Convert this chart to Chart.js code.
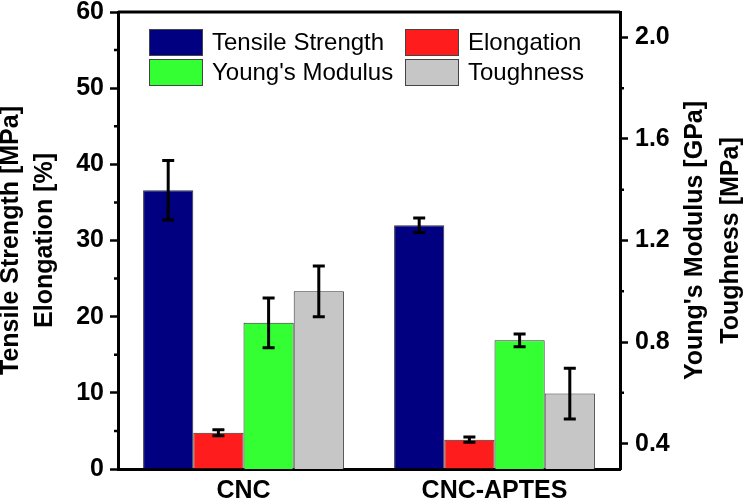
<!DOCTYPE html>
<html>
<head>
<meta charset="utf-8">
<script src="https://cdn.jsdelivr.net/npm/chart.js@4/dist/chart.umd.min.js"></script>
<style>
  html, body { margin: 0; padding: 0; background: #fff; }
  #wrap { width: 750px; height: 501px; }
</style>
</head>
<body>
<div id="wrap"><canvas id="chart" width="750" height="501"></canvas></div>
<script>
// Chart data
const categories = ['CNC', 'CNC-APTES'];
const tensile = [36.6, 32.0];
const tensileErr = [3.9, 0.95];
const elongation = [4.75, 3.85];
const elongationErr = [0.4, 0.35];
const modulus = [0.876, 0.807];
const modulusErr = [0.098, 0.025];
const toughness = [1.0, 0.597];
const toughnessErr = [0.1, 0.1];

const leftTicks = [0, 10, 20, 30, 40, 50, 60];
const leftMinor = [5, 15, 25, 35, 45, 55];
const rightTicks = [0.4, 0.8, 1.2, 1.6, 2.0];
const rightMinor = [0.6, 1.0, 1.4, 1.8];

const FONT = '"Liberation Sans", Arial, sans-serif';
const Y1_MIN = 0.3;

// error bars, drawn from each bar element and its own scale
const errorBars = {
    id: 'errorBars',
    afterDatasetsDraw(chart) {
        const ctx = chart.ctx;
        ctx.save();
        ctx.strokeStyle = '#000';
        ctx.lineWidth = 3;
        chart.data.datasets.forEach((ds, i) => {
            const meta = chart.getDatasetMeta(i);
            const scale = chart.scales[ds.yAxisID];
            meta.data.forEach((bar, j) => {
                const v = ds.data[j], e = ds.errors[j];
                const yTop = scale.getPixelForValue(v + e);
                const yBot = scale.getPixelForValue(v - e);
                ctx.beginPath();
                ctx.moveTo(bar.x, yTop); ctx.lineTo(bar.x, yBot);
                ctx.moveTo(bar.x - 6, yTop); ctx.lineTo(bar.x + 6, yTop);
                ctx.moveTo(bar.x - 6, yBot); ctx.lineTo(bar.x + 6, yBot);
                ctx.stroke();
            });
        });
        ctx.restore();
    }
};

// frame, minor ticks, right title, legend
const decorations = {
    id: 'decorations',
    afterDraw(chart) {
        const ctx = chart.ctx;
        const area = chart.chartArea;
        const y = chart.scales.y, y1 = chart.scales.y1;
        ctx.save();
        ctx.strokeStyle = '#000';
        ctx.lineWidth = 3;
        ctx.beginPath();
        ctx.moveTo(area.left, area.top); ctx.lineTo(area.right, area.top);
        ctx.stroke();

        ctx.lineWidth = 2.5;
        ctx.beginPath();
        leftMinor.forEach(v => {
            const p = y.getPixelForValue(v);
            ctx.moveTo(area.left - 4, p); ctx.lineTo(area.left, p);
        });
        rightMinor.forEach(v => {
            const p = y1.getPixelForValue(v);
            ctx.moveTo(area.right, p); ctx.lineTo(area.right + 4, p);
        });
        ctx.stroke();

        // right axis title, reading bottom to top
        ctx.fillStyle = '#000';
        ctx.font = 'bold 25px ' + FONT;
        ctx.textAlign = 'center';
        ctx.textBaseline = 'middle';
        const cy = (area.top + area.bottom) / 2;
        [["Young's Modulus [GPa]", 695], ['Toughness [MPa]', 731]].forEach(([t, x]) => {
            ctx.save();
            ctx.translate(x, cy);
            ctx.rotate(-Math.PI / 2);
            ctx.fillText(t, 0, 0);
            ctx.restore();
        });

        // legend in two columns
        const cols = [149, 405];
        const rows = [29, 59];
        ctx.font = '24px ' + FONT;
        ctx.textAlign = 'left';
        ctx.lineWidth = 1;
        ctx.strokeStyle = '#444';
        chart.data.datasets.forEach((ds, i) => {
            const bx = cols[i % 2], by = rows[Math.floor(i / 2)];
            ctx.fillStyle = ds.backgroundColor;
            ctx.fillRect(bx, by, 54, 27);
            ctx.strokeRect(bx + 0.5, by + 0.5, 53, 26);
            ctx.fillStyle = '#000';
            ctx.fillText(ds.label, bx + 63, by + 14);
        });
        ctx.restore();
    }
};

function makeDataset(label, data, errors, color, axis) {
    return {
        label: label,
        data: data,
        errors: errors,
        yAxisID: axis,
        backgroundColor: color,
        borderColor: '#333',
        borderWidth: 1,
        base: axis === 'y1' ? Y1_MIN : 0,
        categoryPercentage: 0.8,
        barPercentage: 1.0
    };
}

new Chart(document.getElementById('chart').getContext('2d'), {
    type: 'bar',
    data: {
        labels: categories,
        datasets: [
            makeDataset('Tensile Strength', tensile, tensileErr, '#000080', 'y'),
            makeDataset('Elongation', elongation, elongationErr, '#ff1c1c', 'y'),
            makeDataset("Young's Modulus", modulus, modulusErr, '#33ff33', 'y1'),
            makeDataset('Toughness', toughness, toughnessErr, '#c6c6c6', 'y1')
        ]
    },
    options: {
        responsive: false,
        animation: false,
        layout: { padding: { top: 12, left: 0, right: 0, bottom: 0 } },
        plugins: { legend: { display: false }, tooltip: { enabled: false } },
        scales: {
            x: {
                grid: { display: false, drawTicks: false },
                border: { display: true, color: '#000', width: 3 },
                ticks: { color: '#000', padding: 7, font: { family: FONT, size: 25, weight: 'bold' } },
                afterFit: s => { s.height = 32; }
            },
            y: {
                position: 'left',
                min: 0,
                max: 60,
                afterBuildTicks: s => { s.ticks = leftTicks.map(v => ({ value: v })); },
                afterFit: s => { s.width = 118; s.paddingTop = 0; s.paddingBottom = 0; },
                grid: { drawOnChartArea: false, drawTicks: true, tickLength: 8, tickColor: '#000', tickWidth: 2.5 },
                border: { display: true, color: '#000', width: 3 },
                ticks: { color: '#000', padding: 6, font: { family: FONT, size: 25, weight: 'bold' } },
                title: {
                    display: true,
                    text: ['Tensile Strength [MPa]', 'Elongation [%]'],
                    color: '#000',
                    padding: { top: -6, bottom: 0 },
                    font: { family: FONT, size: 25, weight: 'bold', lineHeight: 1.35 }
                }
            },
            y1: {
                position: 'right',
                min: Y1_MIN,
                max: 2.1,
                afterBuildTicks: s => { s.ticks = rightTicks.map(v => ({ value: v })); },
                afterFit: s => { s.width = 130; s.paddingTop = 0; s.paddingBottom = 0; },
                grid: { drawOnChartArea: false, drawTicks: true, tickLength: 8, tickColor: '#000', tickWidth: 2.5 },
                border: { display: true, color: '#000', width: 3 },
                ticks: { color: '#000', padding: 7, callback: v => v.toFixed(1), font: { family: FONT, size: 25, weight: 'bold' } }
            }
        }
    },
    plugins: [errorBars, decorations]
});
</script>
</body>
</html>
